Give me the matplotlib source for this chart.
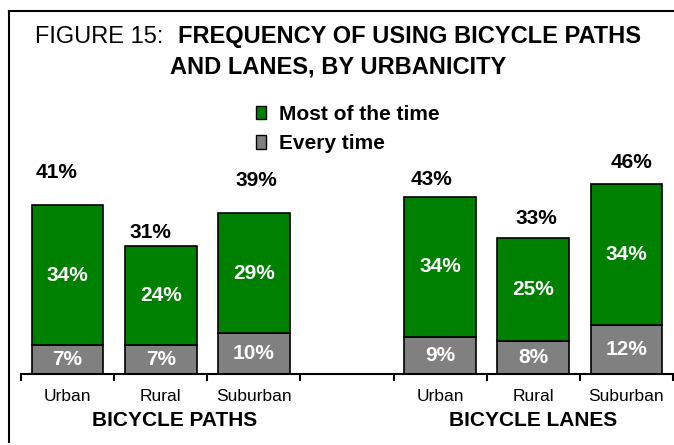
import numpy as np
import matplotlib
matplotlib.use("Agg")
import matplotlib.pyplot as plt
from matplotlib.lines import Line2D
from matplotlib.patches import Patch

plt.rcParams['font.family'] = ['Liberation Sans', 'DejaVu Sans']

# data
slots = ["Urban", "Rural", "Suburban", "", "Urban", "Rural", "Suburban"]
bar_slots = [0, 1, 2, 4, 5, 6]
every_time = [7, 7, 10, 9, 8, 12]
most_of_time = [34, 24, 29, 34, 25, 34]
totals = [41, 31, 39, 43, 33, 46]
groups = ["BICYCLE PATHS", "BICYCLE LANES"]

GREEN = "#008000"
GRAY = "#808080"

# total labels were placed by hand in the original, offsets in pixels from bar top
total_offsets = [(-11, 33), (-10, 14), (3, 33), (-9, 17), (3, 20), (5, 22)]
group_x = [1.15, 5.0]

W, H = 674, 445
fig = plt.figure(figsize=(W / 100, H / 100), dpi=100)
ax = fig.add_axes([21 / W, 71 / H, 652 / W, 206 / H])

b1 = ax.bar(bar_slots, every_time, width=0.77, color=GRAY, edgecolor='black', linewidth=1.2)
b2 = ax.bar(bar_slots, most_of_time, bottom=every_time, width=0.77, color=GREEN,
            edgecolor='black', linewidth=1.2)
ax.bar_label(b1, labels=[f"{v}%" for v in every_time], label_type='center',
             color='white', fontsize=15, fontweight='bold')
ax.bar_label(b2, labels=[f"{v}%" for v in most_of_time], label_type='center',
             color='white', fontsize=15, fontweight='bold')

for x, t, (dx, dy) in zip(bar_slots, totals, total_offsets):
    ax.annotate(f"{t}%", (x, t), xytext=(dx, dy), textcoords='offset pixels',
                ha='center', va='center', fontsize=15, fontweight='bold',
                annotation_clip=False)

ax.set_xlim(-0.5, 6.5)
ax.set_ylim(0, 50)
for s in ['left', 'top', 'right']:
    ax.spines[s].set_visible(False)
ax.spines['bottom'].set_linewidth(1.5)
ax.set_yticks([])
ax.set_xticks(np.arange(-0.5, 7, 1))
ax.set_xticklabels([])
ax.set_xticks(range(len(slots)), minor=True)
ax.set_xticklabels(slots, minor=True)
ax.tick_params(axis='x', which='major', length=5, width=1.5, direction='out')
ax.tick_params(axis='x', which='minor', length=0, pad=10.5, labelsize=12.5)

for gx, g in zip(group_x, groups):
    ax.text(gx, -0.228, g, transform=ax.get_xaxis_transform(), ha='center', va='center',
            fontsize=15, fontweight='bold')

handles = [Patch(facecolor=GREEN, edgecolor='black'), Patch(facecolor=GRAY, edgecolor='black')]
fig.legend(handles, ["Most of the time", "Every time"], loc='upper left',
           bbox_to_anchor=(256 / W, 1 - 105 / H), frameon=False,
           prop={'weight': 'bold', 'size': 15}, handlelength=0.5, handleheight=0.6,
           handletextpad=0.6, labelspacing=0.5, borderpad=0, borderaxespad=0)

# title: regular prefix + bold text on one line, centred
r = fig.canvas.get_renderer()
y1 = 1 - 37 / H
t1 = fig.text(0, y1, "FIGURE 15:", fontsize=17, va='center', ha='left')
t2 = fig.text(0, y1, "FREQUENCY OF USING BICYCLE PATHS", fontsize=17, fontweight='bold',
              va='center', ha='left')
w1 = t1.get_window_extent(r).width
w2 = t2.get_window_extent(r).width
gap = 15
x0 = 338 - (w1 + gap + w2) / 2
t1.set_x(x0 / W)
t2.set_x((x0 + w1 + gap) / W)
fig.text(338 / W, 1 - 67 / H, "AND LANES, BY URBANICITY", fontsize=17, fontweight='bold',
         ha='center', va='center')

# outer frame (only top and left edges show)
fig.add_artist(Line2D([9 / W, 1], [1 - 11 / H, 1 - 11 / H], transform=fig.transFigure,
                      color='black', lw=1.5))
fig.add_artist(Line2D([9 / W, 9 / W], [1 - 11 / H, 3 / H], transform=fig.transFigure,
                      color='black', lw=1.5))

fig.savefig("out.png", dpi=100)
